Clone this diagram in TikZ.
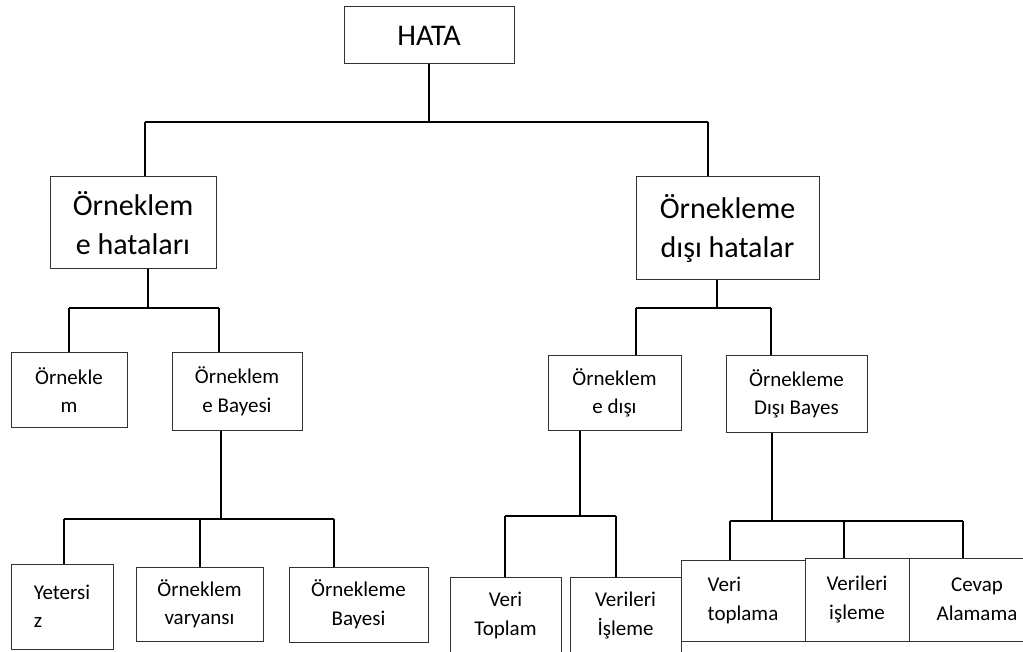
\documentclass[tikz,border=0pt]{standalone}
\usepackage{fontspec}
\setmainfont{Carlito}

\begin{document}
\begin{tikzpicture}[x=1pt,y=-1pt,
    bigbox/.style={draw=black!80, line width=1pt, inner sep=0pt, align=center,
      font=\fontsize{30}{39}\selectfont},
    smallbox/.style={draw=black!80, line width=1pt, inner sep=0pt, align=center,
      font=\fontsize{21}{28.5}\selectfont},
    conn/.style={line width=2pt}]
    \clip (0,0) rectangle (1023,652);

    \node[bigbox, minimum width=170pt, minimum height=57pt] (hata) at (429,35.5) {HATA};
    \node[bigbox, minimum width=166pt, minimum height=92pt] (hatalari) at (133,223) {Örneklem\\ e hataları};
    \node[bigbox, minimum width=183pt, minimum height=103pt] (disi) at (727.5,228.5) {Örnekleme\\dışı hatalar};

    \node[smallbox, minimum width=116pt, minimum height=74pt] (ornekle) at (69,390) {Örnekle\\m};
    \node[smallbox, minimum width=130pt, minimum height=77pt] (bayesi) at (237,391.5) {Örneklem\\e Bayesi};
    \node[smallbox, minimum width=133pt, minimum height=74pt] (edisi) at (614.5,393) {Örneklem\\e dışı};
    \node[smallbox, minimum width=141pt, minimum height=76pt] (disibayes) at (796.5,394) {Örnekleme\\Dışı Bayes};

    \node[smallbox, align=left, minimum width=102pt, minimum height=85pt] (yetersiz) at (62,606.5) {Yetersi\\z};
    \node[smallbox, minimum width=127pt, minimum height=74pt] (varyans) at (199.5,604) {Örneklem\\varyansı};
    \node[smallbox, minimum width=139pt, minimum height=75pt] (ornbayes) at (358.5,604.5) {Örnekleme\\Bayesi};

    \node[smallbox, minimum width=111pt, minimum height=77pt] (veritoplam) at (505.5,615.5) {Veri\\Toplam};
    \node[smallbox, minimum width=111pt, minimum height=77pt] (verisleme) at (625.5,615.5) {Verileri\\İşleme};
    \node[smallbox, fill=white, align=left, minimum width=124pt, minimum height=81pt] (veritoplama) at (743,600.5) {Veri\\toplama};
    \node[smallbox, minimum width=104pt, minimum height=83pt] (verilerisl) at (857,599.5) {Verileri\\işleme};
    \node[smallbox, minimum width=136pt, minimum height=83pt] (cevap) at (977,599.5) {Cevap\\Alamama};

    \coordinate (h1) at (145,122);
    \coordinate (h2) at (708,122);
    \coordinate (s0) at (148,308);
    \coordinate (s1) at (69,308);
    \coordinate (s2) at (219,308);
    \coordinate (b0) at (221,519);
    \coordinate (b1) at (64,519);
    \coordinate (b2) at (200,519);
    \coordinate (b3) at (334,519);
    \coordinate (n0) at (717,308);
    \coordinate (n1) at (636,308);
    \coordinate (n2) at (771,308);
    \coordinate (e0) at (580,516);
    \coordinate (e1) at (505,516);
    \coordinate (e2) at (616,516);
    \coordinate (d0) at (772,521);
    \coordinate (d1) at (730,521);
    \coordinate (d2) at (844,521);
    \coordinate (d3) at (963,521);

    \draw[conn] (hata.south) -- (hata.south |- h1);
    \draw[conn] (h1) -- (h2);
    \draw[conn] (h1) -- (h1 |- hatalari.north);
    \draw[conn] (h2) -- (h2 |- disi.north);

    \draw[conn] (s0 |- hatalari.south) -- (s0);
    \draw[conn] (s1) -- (s2);
    \draw[conn] (s1) -- (s1 |- ornekle.north);
    \draw[conn] (s2) -- (s2 |- bayesi.north);

    \draw[conn] (b0 |- bayesi.south) -- (b0);
    \draw[conn] (b1) -- (b3);
    \draw[conn] (b1) -- (b1 |- yetersiz.north);
    \draw[conn] (b2) -- (b2 |- varyans.north);
    \draw[conn] (b3) -- (b3 |- ornbayes.north);

    \draw[conn] (n0 |- disi.south) -- (n0);
    \draw[conn] (n1) -- (n2);
    \draw[conn] (n1) -- (n1 |- edisi.north);
    \draw[conn] (n2) -- (n2 |- disibayes.north);

    \draw[conn] (e0 |- edisi.south) -- (e0);
    \draw[conn] (e1) -- (e2);
    \draw[conn] (e1) -- (e1 |- veritoplam.north);
    \draw[conn] (e2) -- (e2 |- verisleme.north);

    \draw[conn] (d0 |- disibayes.south) -- (d0);
    \draw[conn] (d1) -- (d3);
    \draw[conn] (d1) -- (d1 |- veritoplama.north);
    \draw[conn] (d2) -- (d2 |- verilerisl.north);
    \draw[conn] (d3) -- (d3 |- cevap.north);
\end{tikzpicture}
\end{document}
